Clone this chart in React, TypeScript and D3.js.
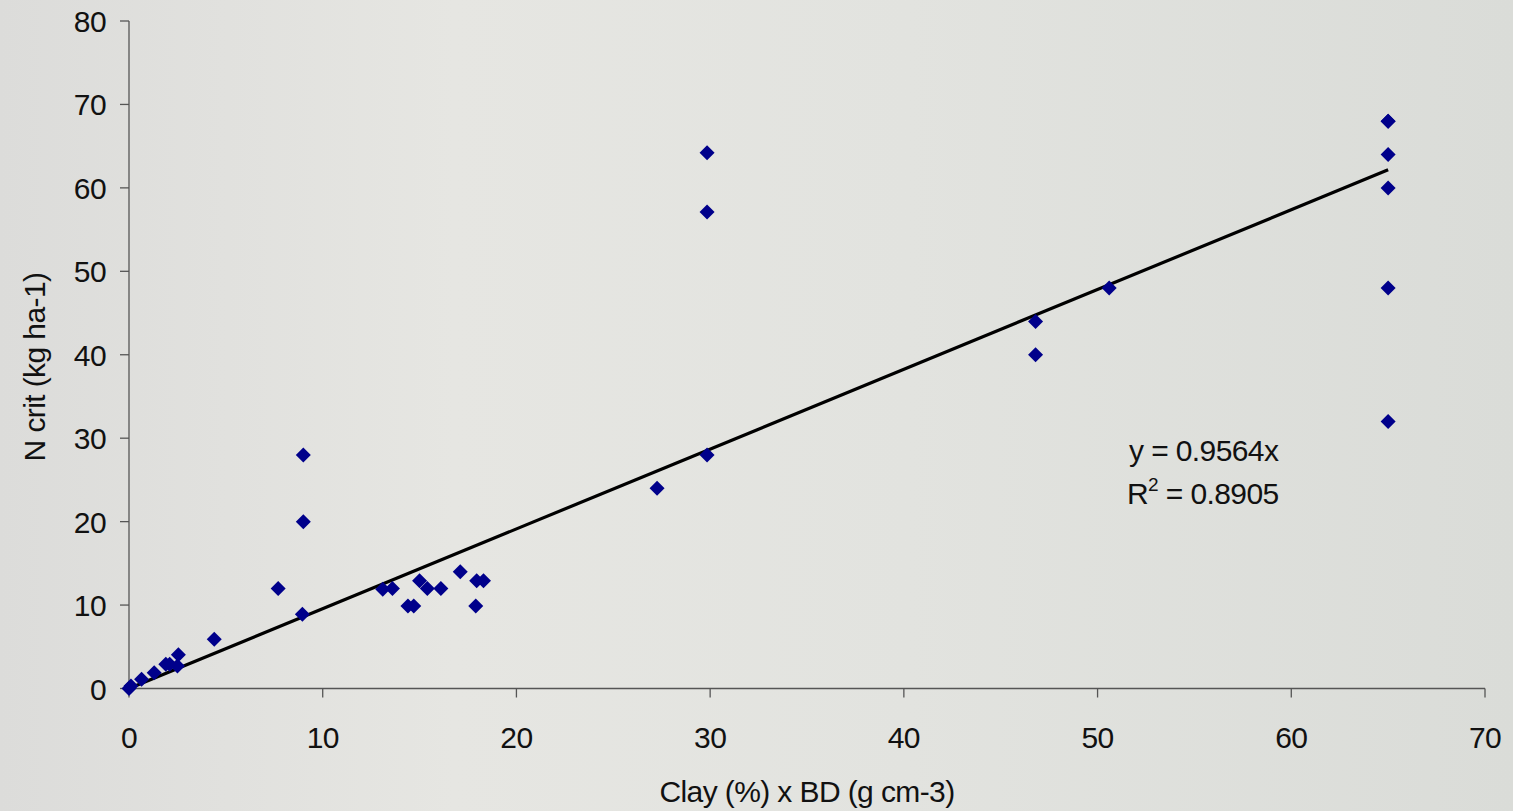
import React from "react";
import * as d3 from "d3";

const xValues = [0, 0.1, 0.65, 1.3, 1.9, 2.1, 2.5, 2.55, 4.4, 7.7, 8.95, 9.0, 9.0,
  13.1, 13.6, 15.0, 15.4, 16.1, 14.4, 14.7, 17.1, 17.95, 18.3, 17.9,
  27.26, 29.84, 29.84, 29.84, 46.8, 46.8, 50.6,
  65.0, 65.0, 65.0, 65.0, 65.0, 65.0];
const yValues = [0, 0.3, 1.1, 1.9, 2.9, 2.9, 2.7, 4.05, 5.9, 12.0, 8.9, 28, 20,
  11.9, 12.0, 12.9, 12.0, 12.0, 9.9, 9.9, 14.0, 12.9, 12.9, 9.9,
  24.0, 28.0, 57.1, 64.2, 44, 40, 48,
  68, 68, 64, 60, 48, 32];
const xTicks = [0, 10, 20, 30, 40, 50, 60, 70];
const yTicks = [0, 10, 20, 30, 40, 50, 60, 70, 80];
const slope = 0.9564;
const trendRange = [0, 65];
const xLabel = "Clay (%) x BD (g cm-3)";
const yLabel = "N crit (kg ha-1)";

export default function App() {
  const W = 1513, H = 811;
  const x = d3.scaleLinear().domain([0, 70]).range([129, 1485]);
  const y = d3.scaleLinear().domain([0, 80]).range([688.5, 21]);
  const font = "'Liberation Sans', Arial, sans-serif";
  const diamond = "M0,-7.5L7.5,0L0,7.5L-7.5,0Z";
  const line = d3.line<number>().x((d) => x(d)).y((d) => y(d * slope));
  const fs = 30, ls = -0.6;
  return (
    <svg width={W} height={H} style={{ position: "absolute", left: 0, top: 0 }} fontFamily={font}>
      <defs>
        <linearGradient id="bg" x1="0" x2="1" y1="0" y2="0">
          <stop offset="0" stopColor="#dcdcda" />
          <stop offset="0.3" stopColor="#e6e6e2" />
          <stop offset="0.6" stopColor="#e2e3df" />
          <stop offset="1" stopColor="#dadcd8" />
        </linearGradient>
      </defs>
      <rect width={W} height={H} fill="url(#bg)" />
      <line x1={x(0)} x2={x(70)} y1={y(0)} y2={y(0)} stroke="#555" strokeWidth={1.3} />
      <line x1={x(0)} x2={x(0)} y1={y(0)} y2={y(80)} stroke="#555" strokeWidth={1.3} />
      {xTicks.map((t) => (
        <g key={"xt" + t}>
          <line x1={x(t)} x2={x(t)} y1={y(0)} y2={y(0) + 9} stroke="#555" strokeWidth={1.3} />
          <text x={x(t)} y={748} fontSize={fs} textAnchor="middle" letterSpacing={ls} fill="#111">{t}</text>
        </g>
      ))}
      {yTicks.map((t) => (
        <g key={"yt" + t}>
          <line x1={x(0) - 9} x2={x(0)} y1={y(t)} y2={y(t)} stroke="#555" strokeWidth={1.3} />
          <text x={106} y={y(t) + 11} fontSize={fs} textAnchor="end" letterSpacing={ls} fill="#111">{t}</text>
        </g>
      ))}
      <text x={807} y={802} fontSize={fs} textAnchor="middle" letterSpacing={ls} fill="#111">{xLabel}</text>
      <text transform="translate(45,367) rotate(-90)" fontSize={fs} textAnchor="middle" letterSpacing={ls} fill="#111">{yLabel}</text>
      <path d={line(trendRange) as string} stroke="#000" strokeWidth={3.2} fill="none" />
      {xValues.map((v, i) => (
        <path key={"p" + i} d={diamond} transform={`translate(${x(v)},${y(yValues[i])})`} fill="#00008b" />
      ))}
      <text x={1129} y={461} fontSize={fs} letterSpacing={ls} fill="#111">y = 0.9564x</text>
      <text x={1127} y={504} fontSize={fs} letterSpacing={ls} fill="#111">
        R<tspan dy={-13} fontSize={19}>2</tspan><tspan dy={13}> = 0.8905</tspan>
      </text>
    </svg>
  );
}
